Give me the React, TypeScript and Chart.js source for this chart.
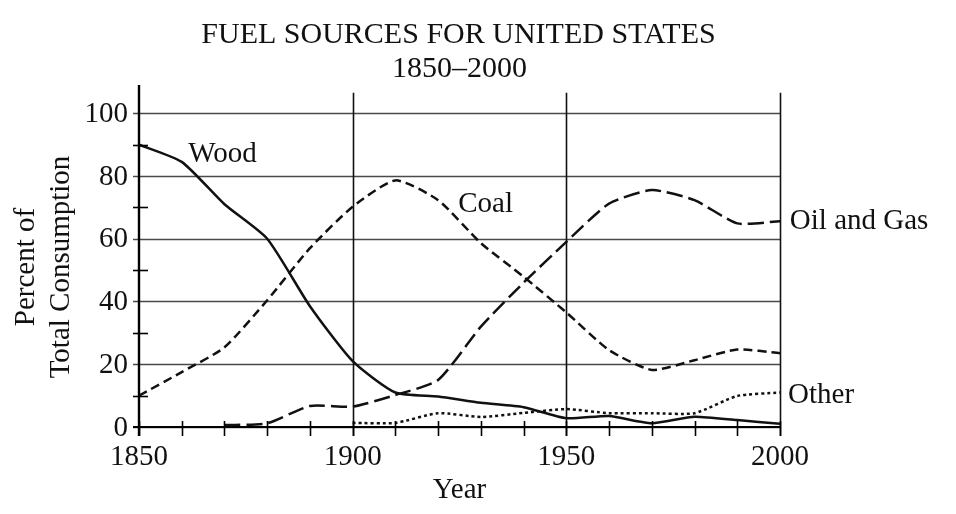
import React, { useEffect, useRef } from "react";
import { Chart, registerables } from "chart.js";

Chart.register(...registerables);

const years = [1850, 1860, 1870, 1880, 1890, 1900, 1910, 1920, 1930, 1940, 1950, 1960, 1970, 1980, 1990, 2000];
const woodValues = [90, 84.5, 71, 60, 38.5, 21, 11, 9.7, 7.7, 6.3, 2.8, 3.5, 1.2, 3.3, 2.2, 1];
const coalValues = [10, 17.5, 25.4, 40.4, 57, 70.2, 78.6, 72.3, 58.6, 47.9, 36.5, 24.5, 18.2, 21.3, 24.7, 23.5];
const oilValues = [null, null, 0.6, 1.2, 6.7, 6.5, 10.2, 15, 32, 46, 59, 71.2, 75.5, 72.3, 64.9, 65.6];
const otherValues = [null, null, null, null, null, 1.3, 1.3, 4.4, 3.2, 4.5, 5.7, 4.4, 4.4, 4.4, 9.9, 11];

const yLabelTicks = [0, 20, 40, 60, 80, 100];
const yMinorTicks = [10, 30, 50, 70, 90];
const xLabelTicks = [1850, 1900, 1950, 2000];
const xGridYears = [1900, 1950, 2000];

const titleLines = ["FUEL SOURCES FOR UNITED STATES", "1850\u20132000"];
const xTitle = "Year";
const yTitleLines = ["Percent of", "Total Consumption"];

// series name labels anchored in data coordinates (year, value)
const seriesLabels = [
  { text: "Wood", year: 1861.5, value: 84.4 },
  { text: "Coal", year: 1924.7, value: 68.5 },
  { text: "Oil and Gas", year: 2002.3, value: 63 },
  { text: "Other", year: 2001.9, value: 7.6 },
];

const FONT = '"Liberation Serif", "Times New Roman", serif';

function toPoints(vals: (number | null)[]) {
  return years
    .map((x, i) => ({ x, y: vals[i] }))
    .filter((p) => p.y !== null) as { x: number; y: number }[];
}

const drawPlugin = {
  id: "fuelDecor",
  beforeDatasetsDraw(chart: any) {
    const { ctx, chartArea } = chart;
    const xs = chart.scales.x;
    const ys = chart.scales.y;
    ctx.save();
    ctx.lineCap = "butt";
    ctx.strokeStyle = "#4a4a4a";
    ctx.lineWidth = 1.6;
    yLabelTicks.forEach((v) => {
      const py = Math.round(ys.getPixelForValue(v)) + 0.5;
      ctx.beginPath();
      ctx.moveTo(chartArea.left - 6, py);
      ctx.lineTo(chartArea.right, py);
      ctx.stroke();
    });
    ctx.strokeStyle = "#111";
    ctx.lineWidth = 1.6;
    xGridYears.forEach((yr) => {
      const px = Math.round(xs.getPixelForValue(yr)) + 0.5;
      ctx.beginPath();
      ctx.moveTo(px, ys.getPixelForValue(106.5));
      ctx.lineTo(px, chartArea.bottom + 9);
      ctx.stroke();
    });
    ctx.restore();
  },
  afterDatasetsDraw(chart: any) {
    const { ctx, chartArea } = chart;
    const xs = chart.scales.x;
    const ys = chart.scales.y;
    ctx.save();
    ctx.strokeStyle = "#000";
    ctx.lineWidth = 2.4;
    ctx.beginPath();
    ctx.moveTo(chartArea.left, chartArea.top);
    ctx.lineTo(chartArea.left, chartArea.bottom + 9);
    ctx.stroke();
    ctx.lineWidth = 2;
    ctx.beginPath();
    ctx.moveTo(chartArea.left - 6, chartArea.bottom);
    ctx.lineTo(chartArea.right, chartArea.bottom);
    ctx.stroke();
    ctx.lineWidth = 1.6;
    years.forEach((yr) => {
      const px = Math.round(xs.getPixelForValue(yr)) + 0.5;
      ctx.beginPath();
      ctx.moveTo(px, chartArea.bottom - 6);
      ctx.lineTo(px, chartArea.bottom + 9);
      ctx.stroke();
    });
    yMinorTicks.forEach((v) => {
      const py = Math.round(ys.getPixelForValue(v)) + 0.5;
      ctx.beginPath();
      ctx.moveTo(chartArea.left - 6, py);
      ctx.lineTo(chartArea.left + 9, py);
      ctx.stroke();
    });

    ctx.fillStyle = "#111";
    ctx.font = `29px ${FONT}`;
    ctx.textAlign = "right";
    ctx.textBaseline = "middle";
    yLabelTicks.forEach((v) => {
      ctx.fillText(String(v), chartArea.left - 11, ys.getPixelForValue(v) + 1);
    });
    ctx.textAlign = "center";
    ctx.textBaseline = "alphabetic";
    xLabelTicks.forEach((yr) => {
      ctx.fillText(String(yr), xs.getPixelForValue(yr), chartArea.bottom + 38);
    });
    ctx.fillText(xTitle, (chartArea.left + chartArea.right) / 2, chartArea.bottom + 71);
    ctx.font = `30px ${FONT}`;
    ctx.fillText(titleLines[0], (chartArea.left + chartArea.right) / 2 - 1, 43);
    ctx.fillText(titleLines[1], (chartArea.left + chartArea.right) / 2, 77);
    ctx.font = `29px ${FONT}`;
    ctx.save();
    ctx.translate(0, (chartArea.top + chartArea.bottom) / 2 + 11);
    ctx.rotate(-Math.PI / 2);
    ctx.textAlign = "center";
    ctx.textBaseline = "middle";
    ctx.fillText(yTitleLines[0], 0, 26);
    ctx.fillText(yTitleLines[1], 0, 61);
    ctx.restore();
    ctx.textAlign = "left";
    ctx.textBaseline = "alphabetic";
    seriesLabels.forEach((l) => {
      ctx.fillText(l.text, xs.getPixelForValue(l.year), ys.getPixelForValue(l.value));
    });
    ctx.restore();
  },
};

export default function App() {
  const ref = useRef<HTMLCanvasElement>(null);
  useEffect(() => {
    if (!ref.current) return;
    const common = {
      borderColor: "#111",
      borderWidth: 2.5,
      pointRadius: 0,
      fill: false,
      tension: 0.2,
    };
    const chart = new Chart(ref.current, {
      type: "line",
      data: {
        datasets: [
          { ...common, label: "Wood", data: toPoints(woodValues) },
          { ...common, label: "Coal", data: toPoints(coalValues), borderDash: [9, 5] },
          { ...common, label: "Oil and Gas", data: toPoints(oilValues), borderDash: [16, 6] },
          { ...common, label: "Other", data: toPoints(otherValues), borderDash: [3, 3] },
        ],
      },
      options: {
        animation: false,
        responsive: false,
        maintainAspectRatio: false,
        layout: { padding: { top: 85, right: 176, bottom: 0, left: 0 } },
        plugins: { legend: { display: false }, title: { display: false }, tooltip: { enabled: false } },
        scales: {
          x: {
            type: "linear",
            min: 1850,
            max: 2000,
            ticks: { display: false },
            grid: { display: false },
            border: { display: false },
            afterFit: (s: any) => {
              s.height = 87;
            },
          },
          y: {
            type: "linear",
            min: 0,
            max: 109,
            ticks: { display: false },
            grid: { display: false },
            border: { display: false },
            afterFit: (s: any) => {
              s.width = 139;
            },
          },
        },
      },
      plugins: [drawPlugin],
    });
    return () => chart.destroy();
  }, []);
  return (
    <div style={{ position: "fixed", left: 0, top: 0, width: 956, height: 514, background: "#fff" }}>
      <canvas ref={ref} width={956} height={514} style={{ display: "block" }} />
    </div>
  );
}
